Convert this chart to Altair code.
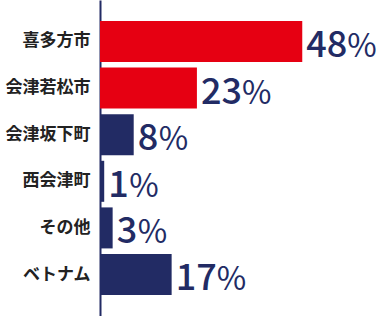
import altair as alt
import pandas as pd

categories = ["喜多方市", "会津若松市", "会津坂下町", "西会津町", "その他", "ベトナム"]
values = [48, 23, 8, 1, 3, 17]
groups = ["red", "red", "navy", "navy", "navy", "navy"]

RED = "#E60012"
NAVY = "#222B64"

df = pd.DataFrame({"category": categories, "value": values, "group": groups})

y_enc = alt.Y(
    "category:N",
    sort=None,
    title=None,
    scale=alt.Scale(paddingInner=0.12, paddingOuter=0.45),
    axis=alt.Axis(
        ticks=False,
        domainColor=NAVY,
        domainWidth=2,
        labelPadding=10,
        labelFont="Noto Sans CJK JP",
        labelFontWeight="bold",
        labelFontSize=17,
        labelColor="#222222",
        grid=False,
    ),
)
x_enc = alt.X("value:Q", scale=alt.Scale(domain=[0, 65.5]), axis=None)

base = alt.Chart(df)

bars = base.mark_bar().encode(
    x=x_enc,
    y=y_enc,
    color=alt.Color(
        "group:N",
        scale=alt.Scale(domain=["red", "navy"], range=[RED, NAVY]),
        legend=None,
    ),
)

nums = base.mark_text(
    align="left",
    baseline="alphabetic",
    dx=4,
    dy=15.5,
    font="Noto Sans CJK JP",
    fontWeight=500,
    fontSize=36,
    color=NAVY,
).encode(x=x_enc, y=y_enc, text=alt.Text("value:Q"))

pct2 = base.transform_filter("datum.value >= 10").mark_text(
    align="left",
    baseline="alphabetic",
    dx=45,
    dy=15.5,
    font="Noto Sans CJK JP",
    fontWeight="normal",
    fontSize=32,
    color=NAVY,
).encode(x=x_enc, y=y_enc, text=alt.value("%"))

pct1 = base.transform_filter("datum.value < 10").mark_text(
    align="left",
    baseline="alphabetic",
    dx=25,
    dy=15.5,
    font="Noto Sans CJK JP",
    fontWeight="normal",
    fontSize=32,
    color=NAVY,
).encode(x=x_enc, y=y_enc, text=alt.value("%"))

chart = (
    alt.layer(bars, nums, pct2, pct1)
    .properties(
        width=276,
        height=316,
        autosize=alt.AutoSizeParams(type="none"),
        padding={"left": 100, "top": 0, "right": 0, "bottom": 0},
        background="white",
    )
    .configure_view(stroke=None)
)

chart.save("out.html", embed_options={"renderer": "svg", "actions": False})
